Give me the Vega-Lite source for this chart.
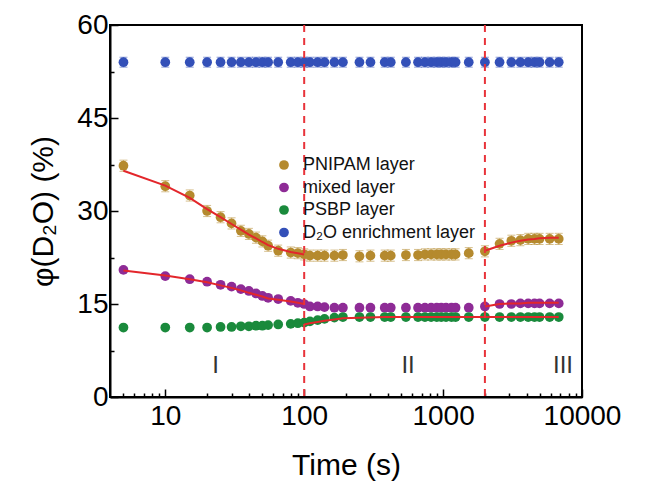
{
  "$schema": "https://vega.github.io/schema/vega-lite/v6.json",
  "width": 472,
  "height": 372,
  "autosize": {"type": "none"},
  "padding": {"left": 110, "top": 25, "right": 74, "bottom": 86},
  "background": "white",
  "config": {
    "view": {"stroke": "black", "strokeWidth": 2},
    "font": "Liberation Sans",
    "axis": {
      "grid": false,
      "domainColor": "black",
      "domainWidth": 2,
      "tickColor": "black",
      "tickWidth": 1.5,
      "labelFont": "Liberation Sans",
      "labelColor": "black",
      "titleFont": "Liberation Sans",
      "titleColor": "black",
      "titleFontWeight": "normal"
    },
    "legend": {
      "title": null, "orient": "none", "legendX": 165, "legendY": 131,
      "symbolType": "circle", "symbolSize": 95, "symbolStrokeWidth": 0, "symbolOpacity": 1,
      "labelFontSize": 18, "labelFont": "Liberation Sans", "labelColor": "#111",
      "labelLimit": 400, "rowPadding": 4.5, "labelOffset": 10
    }
  },
  "datasets": {
    "pts": [
      {"layer": "PNIPAM layer", "t": 5, "phi": 37.3, "err": 0.9},
      {"layer": "PNIPAM layer", "t": 10, "phi": 34.0, "err": 0.9},
      {"layer": "PNIPAM layer", "t": 15, "phi": 32.5, "err": 0.9},
      {"layer": "PNIPAM layer", "t": 20, "phi": 30.0, "err": 0.9},
      {"layer": "PNIPAM layer", "t": 25, "phi": 29.0, "err": 0.9},
      {"layer": "PNIPAM layer", "t": 30, "phi": 28.0, "err": 0.9},
      {"layer": "PNIPAM layer", "t": 35, "phi": 26.8, "err": 0.9},
      {"layer": "PNIPAM layer", "t": 40, "phi": 26.3, "err": 0.9},
      {"layer": "PNIPAM layer", "t": 45, "phi": 25.7, "err": 0.9},
      {"layer": "PNIPAM layer", "t": 50, "phi": 25.1, "err": 0.9},
      {"layer": "PNIPAM layer", "t": 55, "phi": 24.4, "err": 0.9},
      {"layer": "PNIPAM layer", "t": 65, "phi": 23.6, "err": 0.9},
      {"layer": "PNIPAM layer", "t": 80, "phi": 23.3, "err": 0.9},
      {"layer": "PNIPAM layer", "t": 90, "phi": 23.2, "err": 0.9},
      {"layer": "PNIPAM layer", "t": 100, "phi": 23.0, "err": 0.9},
      {"layer": "PNIPAM layer", "t": 110, "phi": 22.8, "err": 0.9},
      {"layer": "PNIPAM layer", "t": 125, "phi": 22.8, "err": 0.9},
      {"layer": "PNIPAM layer", "t": 140, "phi": 22.8, "err": 0.9},
      {"layer": "PNIPAM layer", "t": 165, "phi": 22.8, "err": 0.9},
      {"layer": "PNIPAM layer", "t": 190, "phi": 22.9, "err": 0.9},
      {"layer": "PNIPAM layer", "t": 250, "phi": 22.7, "err": 0.9},
      {"layer": "PNIPAM layer", "t": 300, "phi": 22.8, "err": 0.9},
      {"layer": "PNIPAM layer", "t": 380, "phi": 22.8, "err": 0.9},
      {"layer": "PNIPAM layer", "t": 420, "phi": 22.8, "err": 0.9},
      {"layer": "PNIPAM layer", "t": 540, "phi": 22.9, "err": 0.9},
      {"layer": "PNIPAM layer", "t": 660, "phi": 22.9, "err": 0.9},
      {"layer": "PNIPAM layer", "t": 740, "phi": 23.0, "err": 0.9},
      {"layer": "PNIPAM layer", "t": 820, "phi": 23.0, "err": 0.9},
      {"layer": "PNIPAM layer", "t": 900, "phi": 23.0, "err": 0.9},
      {"layer": "PNIPAM layer", "t": 970, "phi": 23.0, "err": 0.9},
      {"layer": "PNIPAM layer", "t": 1050, "phi": 23.0, "err": 0.9},
      {"layer": "PNIPAM layer", "t": 1150, "phi": 23.0, "err": 0.9},
      {"layer": "PNIPAM layer", "t": 1230, "phi": 23.0, "err": 0.9},
      {"layer": "PNIPAM layer", "t": 1530, "phi": 23.2, "err": 0.9},
      {"layer": "PNIPAM layer", "t": 2000, "phi": 23.5, "err": 0.9},
      {"layer": "PNIPAM layer", "t": 2550, "phi": 24.7, "err": 0.9},
      {"layer": "PNIPAM layer", "t": 3100, "phi": 25.2, "err": 0.9},
      {"layer": "PNIPAM layer", "t": 3600, "phi": 25.3, "err": 0.9},
      {"layer": "PNIPAM layer", "t": 4100, "phi": 25.5, "err": 0.9},
      {"layer": "PNIPAM layer", "t": 4550, "phi": 25.5, "err": 0.9},
      {"layer": "PNIPAM layer", "t": 4950, "phi": 25.5, "err": 0.9},
      {"layer": "PNIPAM layer", "t": 5850, "phi": 25.5, "err": 0.9},
      {"layer": "PNIPAM layer", "t": 6800, "phi": 25.5, "err": 0.9},

      {"layer": "mixed layer", "t": 5, "phi": 20.5, "err": 0.4},
      {"layer": "mixed layer", "t": 10, "phi": 19.5, "err": 0.4},
      {"layer": "mixed layer", "t": 15, "phi": 19.0, "err": 0.4},
      {"layer": "mixed layer", "t": 20, "phi": 18.6, "err": 0.4},
      {"layer": "mixed layer", "t": 25, "phi": 18.1, "err": 0.4},
      {"layer": "mixed layer", "t": 30, "phi": 17.8, "err": 0.4},
      {"layer": "mixed layer", "t": 35, "phi": 17.4, "err": 0.4},
      {"layer": "mixed layer", "t": 40, "phi": 17.1, "err": 0.4},
      {"layer": "mixed layer", "t": 45, "phi": 16.7, "err": 0.4},
      {"layer": "mixed layer", "t": 50, "phi": 16.3, "err": 0.4},
      {"layer": "mixed layer", "t": 55, "phi": 16.0, "err": 0.4},
      {"layer": "mixed layer", "t": 65, "phi": 15.8, "err": 0.4},
      {"layer": "mixed layer", "t": 80, "phi": 15.5, "err": 0.4},
      {"layer": "mixed layer", "t": 90, "phi": 15.2, "err": 0.4},
      {"layer": "mixed layer", "t": 100, "phi": 15.0, "err": 0.4},
      {"layer": "mixed layer", "t": 110, "phi": 14.6, "err": 0.4},
      {"layer": "mixed layer", "t": 125, "phi": 14.6, "err": 0.4},
      {"layer": "mixed layer", "t": 140, "phi": 14.5, "err": 0.4},
      {"layer": "mixed layer", "t": 165, "phi": 14.4, "err": 0.4},
      {"layer": "mixed layer", "t": 190, "phi": 14.4, "err": 0.4},
      {"layer": "mixed layer", "t": 250, "phi": 14.4, "err": 0.4},
      {"layer": "mixed layer", "t": 300, "phi": 14.4, "err": 0.4},
      {"layer": "mixed layer", "t": 380, "phi": 14.4, "err": 0.4},
      {"layer": "mixed layer", "t": 420, "phi": 14.4, "err": 0.4},
      {"layer": "mixed layer", "t": 540, "phi": 14.4, "err": 0.4},
      {"layer": "mixed layer", "t": 660, "phi": 14.4, "err": 0.4},
      {"layer": "mixed layer", "t": 740, "phi": 14.4, "err": 0.4},
      {"layer": "mixed layer", "t": 820, "phi": 14.4, "err": 0.4},
      {"layer": "mixed layer", "t": 900, "phi": 14.4, "err": 0.4},
      {"layer": "mixed layer", "t": 970, "phi": 14.4, "err": 0.4},
      {"layer": "mixed layer", "t": 1050, "phi": 14.4, "err": 0.4},
      {"layer": "mixed layer", "t": 1150, "phi": 14.4, "err": 0.4},
      {"layer": "mixed layer", "t": 1230, "phi": 14.4, "err": 0.4},
      {"layer": "mixed layer", "t": 1530, "phi": 14.4, "err": 0.4},
      {"layer": "mixed layer", "t": 2000, "phi": 14.6, "err": 0.4},
      {"layer": "mixed layer", "t": 2550, "phi": 15.0, "err": 0.4},
      {"layer": "mixed layer", "t": 3100, "phi": 15.0, "err": 0.4},
      {"layer": "mixed layer", "t": 3600, "phi": 15.1, "err": 0.4},
      {"layer": "mixed layer", "t": 4100, "phi": 15.1, "err": 0.4},
      {"layer": "mixed layer", "t": 4550, "phi": 15.1, "err": 0.4},
      {"layer": "mixed layer", "t": 4950, "phi": 15.1, "err": 0.4},
      {"layer": "mixed layer", "t": 5850, "phi": 15.1, "err": 0.4},
      {"layer": "mixed layer", "t": 6800, "phi": 15.1, "err": 0.4},

      {"layer": "PSBP layer", "t": 5, "phi": 11.2, "err": 0.3},
      {"layer": "PSBP layer", "t": 10, "phi": 11.2, "err": 0.3},
      {"layer": "PSBP layer", "t": 15, "phi": 11.2, "err": 0.3},
      {"layer": "PSBP layer", "t": 20, "phi": 11.2, "err": 0.3},
      {"layer": "PSBP layer", "t": 25, "phi": 11.3, "err": 0.3},
      {"layer": "PSBP layer", "t": 30, "phi": 11.3, "err": 0.3},
      {"layer": "PSBP layer", "t": 35, "phi": 11.4, "err": 0.3},
      {"layer": "PSBP layer", "t": 40, "phi": 11.4, "err": 0.3},
      {"layer": "PSBP layer", "t": 45, "phi": 11.5, "err": 0.3},
      {"layer": "PSBP layer", "t": 50, "phi": 11.5, "err": 0.3},
      {"layer": "PSBP layer", "t": 55, "phi": 11.6, "err": 0.3},
      {"layer": "PSBP layer", "t": 65, "phi": 11.7, "err": 0.3},
      {"layer": "PSBP layer", "t": 80, "phi": 11.8, "err": 0.3},
      {"layer": "PSBP layer", "t": 90, "phi": 11.9, "err": 0.3},
      {"layer": "PSBP layer", "t": 100, "phi": 12.0, "err": 0.3},
      {"layer": "PSBP layer", "t": 110, "phi": 12.2, "err": 0.3},
      {"layer": "PSBP layer", "t": 125, "phi": 12.4, "err": 0.3},
      {"layer": "PSBP layer", "t": 140, "phi": 12.6, "err": 0.3},
      {"layer": "PSBP layer", "t": 165, "phi": 12.8, "err": 0.3},
      {"layer": "PSBP layer", "t": 190, "phi": 12.9, "err": 0.3},
      {"layer": "PSBP layer", "t": 250, "phi": 12.9, "err": 0.3},
      {"layer": "PSBP layer", "t": 300, "phi": 12.9, "err": 0.3},
      {"layer": "PSBP layer", "t": 380, "phi": 12.9, "err": 0.3},
      {"layer": "PSBP layer", "t": 420, "phi": 12.9, "err": 0.3},
      {"layer": "PSBP layer", "t": 540, "phi": 12.9, "err": 0.3},
      {"layer": "PSBP layer", "t": 660, "phi": 12.9, "err": 0.3},
      {"layer": "PSBP layer", "t": 740, "phi": 12.9, "err": 0.3},
      {"layer": "PSBP layer", "t": 820, "phi": 12.9, "err": 0.3},
      {"layer": "PSBP layer", "t": 900, "phi": 12.9, "err": 0.3},
      {"layer": "PSBP layer", "t": 970, "phi": 12.9, "err": 0.3},
      {"layer": "PSBP layer", "t": 1050, "phi": 12.9, "err": 0.3},
      {"layer": "PSBP layer", "t": 1150, "phi": 12.9, "err": 0.3},
      {"layer": "PSBP layer", "t": 1230, "phi": 12.9, "err": 0.3},
      {"layer": "PSBP layer", "t": 1530, "phi": 12.9, "err": 0.3},
      {"layer": "PSBP layer", "t": 2000, "phi": 12.9, "err": 0.3},
      {"layer": "PSBP layer", "t": 2550, "phi": 12.9, "err": 0.3},
      {"layer": "PSBP layer", "t": 3100, "phi": 12.9, "err": 0.3},
      {"layer": "PSBP layer", "t": 3600, "phi": 12.9, "err": 0.3},
      {"layer": "PSBP layer", "t": 4100, "phi": 12.9, "err": 0.3},
      {"layer": "PSBP layer", "t": 4550, "phi": 12.9, "err": 0.3},
      {"layer": "PSBP layer", "t": 4950, "phi": 12.9, "err": 0.3},
      {"layer": "PSBP layer", "t": 5850, "phi": 12.9, "err": 0.3},
      {"layer": "PSBP layer", "t": 6800, "phi": 12.9, "err": 0.3},

      {"layer": "D₂O enrichment layer", "t": 5, "phi": 54.0, "err": 0.8},
      {"layer": "D₂O enrichment layer", "t": 10, "phi": 54.0, "err": 0.8},
      {"layer": "D₂O enrichment layer", "t": 15, "phi": 54.0, "err": 0.8},
      {"layer": "D₂O enrichment layer", "t": 20, "phi": 54.0, "err": 0.8},
      {"layer": "D₂O enrichment layer", "t": 25, "phi": 54.0, "err": 0.8},
      {"layer": "D₂O enrichment layer", "t": 30, "phi": 54.0, "err": 0.8},
      {"layer": "D₂O enrichment layer", "t": 35, "phi": 54.0, "err": 0.8},
      {"layer": "D₂O enrichment layer", "t": 40, "phi": 54.0, "err": 0.8},
      {"layer": "D₂O enrichment layer", "t": 45, "phi": 54.0, "err": 0.8},
      {"layer": "D₂O enrichment layer", "t": 50, "phi": 54.0, "err": 0.8},
      {"layer": "D₂O enrichment layer", "t": 55, "phi": 54.0, "err": 0.8},
      {"layer": "D₂O enrichment layer", "t": 65, "phi": 54.0, "err": 0.8},
      {"layer": "D₂O enrichment layer", "t": 80, "phi": 54.0, "err": 0.8},
      {"layer": "D₂O enrichment layer", "t": 90, "phi": 54.0, "err": 0.8},
      {"layer": "D₂O enrichment layer", "t": 100, "phi": 54.0, "err": 0.8},
      {"layer": "D₂O enrichment layer", "t": 110, "phi": 54.0, "err": 0.8},
      {"layer": "D₂O enrichment layer", "t": 125, "phi": 54.0, "err": 0.8},
      {"layer": "D₂O enrichment layer", "t": 140, "phi": 54.0, "err": 0.8},
      {"layer": "D₂O enrichment layer", "t": 165, "phi": 54.0, "err": 0.8},
      {"layer": "D₂O enrichment layer", "t": 190, "phi": 54.0, "err": 0.8},
      {"layer": "D₂O enrichment layer", "t": 250, "phi": 54.0, "err": 0.8},
      {"layer": "D₂O enrichment layer", "t": 300, "phi": 54.0, "err": 0.8},
      {"layer": "D₂O enrichment layer", "t": 380, "phi": 54.0, "err": 0.8},
      {"layer": "D₂O enrichment layer", "t": 420, "phi": 54.0, "err": 0.8},
      {"layer": "D₂O enrichment layer", "t": 540, "phi": 54.0, "err": 0.8},
      {"layer": "D₂O enrichment layer", "t": 660, "phi": 54.0, "err": 0.8},
      {"layer": "D₂O enrichment layer", "t": 740, "phi": 54.0, "err": 0.8},
      {"layer": "D₂O enrichment layer", "t": 820, "phi": 54.0, "err": 0.8},
      {"layer": "D₂O enrichment layer", "t": 900, "phi": 54.0, "err": 0.8},
      {"layer": "D₂O enrichment layer", "t": 970, "phi": 54.0, "err": 0.8},
      {"layer": "D₂O enrichment layer", "t": 1050, "phi": 54.0, "err": 0.8},
      {"layer": "D₂O enrichment layer", "t": 1150, "phi": 54.0, "err": 0.8},
      {"layer": "D₂O enrichment layer", "t": 1230, "phi": 54.0, "err": 0.8},
      {"layer": "D₂O enrichment layer", "t": 1530, "phi": 54.0, "err": 0.8},
      {"layer": "D₂O enrichment layer", "t": 2000, "phi": 54.0, "err": 0.8},
      {"layer": "D₂O enrichment layer", "t": 2550, "phi": 54.0, "err": 0.8},
      {"layer": "D₂O enrichment layer", "t": 3100, "phi": 54.0, "err": 0.8},
      {"layer": "D₂O enrichment layer", "t": 3600, "phi": 54.0, "err": 0.8},
      {"layer": "D₂O enrichment layer", "t": 4100, "phi": 54.0, "err": 0.8},
      {"layer": "D₂O enrichment layer", "t": 4550, "phi": 54.0, "err": 0.8},
      {"layer": "D₂O enrichment layer", "t": 4950, "phi": 54.0, "err": 0.8},
      {"layer": "D₂O enrichment layer", "t": 5850, "phi": 54.0, "err": 0.8},
      {"layer": "D₂O enrichment layer", "t": 6800, "phi": 54.0, "err": 0.8}
    ],
    "fits": [
      {"curve": "pnipam-1", "t": 5, "phi": 36.5},
      {"curve": "pnipam-1", "t": 10, "phi": 34.1},
      {"curve": "pnipam-1", "t": 15, "phi": 32.1},
      {"curve": "pnipam-1", "t": 20, "phi": 30.3},
      {"curve": "pnipam-1", "t": 25, "phi": 29.0},
      {"curve": "pnipam-1", "t": 30, "phi": 27.9},
      {"curve": "pnipam-1", "t": 35, "phi": 27.0},
      {"curve": "pnipam-1", "t": 40, "phi": 26.2},
      {"curve": "pnipam-1", "t": 45, "phi": 25.6},
      {"curve": "pnipam-1", "t": 50, "phi": 25.0},
      {"curve": "pnipam-1", "t": 55, "phi": 24.5},
      {"curve": "pnipam-1", "t": 65, "phi": 23.9},
      {"curve": "pnipam-1", "t": 80, "phi": 23.4},
      {"curve": "pnipam-1", "t": 90, "phi": 23.2},
      {"curve": "pnipam-1", "t": 100, "phi": 23.0},
      {"curve": "pnipam-3", "t": 2000, "phi": 23.6},
      {"curve": "pnipam-3", "t": 2550, "phi": 24.4},
      {"curve": "pnipam-3", "t": 3100, "phi": 24.9},
      {"curve": "pnipam-3", "t": 3600, "phi": 25.2},
      {"curve": "pnipam-3", "t": 4100, "phi": 25.4},
      {"curve": "pnipam-3", "t": 4550, "phi": 25.5},
      {"curve": "pnipam-3", "t": 4950, "phi": 25.6},
      {"curve": "pnipam-3", "t": 5850, "phi": 25.7},
      {"curve": "pnipam-3", "t": 6800, "phi": 25.7},
      {"curve": "mixed-1", "t": 5, "phi": 20.4},
      {"curve": "mixed-1", "t": 10, "phi": 19.6},
      {"curve": "mixed-1", "t": 15, "phi": 19.0},
      {"curve": "mixed-1", "t": 20, "phi": 18.5},
      {"curve": "mixed-1", "t": 25, "phi": 18.0},
      {"curve": "mixed-1", "t": 30, "phi": 17.6},
      {"curve": "mixed-1", "t": 35, "phi": 17.2},
      {"curve": "mixed-1", "t": 40, "phi": 16.8},
      {"curve": "mixed-1", "t": 45, "phi": 16.5},
      {"curve": "mixed-1", "t": 50, "phi": 16.2},
      {"curve": "mixed-1", "t": 55, "phi": 15.9},
      {"curve": "mixed-1", "t": 65, "phi": 15.7},
      {"curve": "mixed-1", "t": 80, "phi": 15.4},
      {"curve": "mixed-1", "t": 90, "phi": 15.2},
      {"curve": "mixed-1", "t": 100, "phi": 15.0},
      {"curve": "mixed-3", "t": 2000, "phi": 14.6},
      {"curve": "mixed-3", "t": 2550, "phi": 15.0},
      {"curve": "mixed-3", "t": 3100, "phi": 15.1},
      {"curve": "mixed-3", "t": 3600, "phi": 15.1},
      {"curve": "mixed-3", "t": 4100, "phi": 15.2},
      {"curve": "mixed-3", "t": 4550, "phi": 15.2},
      {"curve": "mixed-3", "t": 4950, "phi": 15.2},
      {"curve": "mixed-3", "t": 5850, "phi": 15.2},
      {"curve": "mixed-3", "t": 6800, "phi": 15.2},
      {"curve": "psbp-2", "t": 100, "phi": 11.7},
      {"curve": "psbp-2", "t": 110, "phi": 11.9},
      {"curve": "psbp-2", "t": 125, "phi": 12.1},
      {"curve": "psbp-2", "t": 140, "phi": 12.3},
      {"curve": "psbp-2", "t": 165, "phi": 12.5},
      {"curve": "psbp-2", "t": 190, "phi": 12.7},
      {"curve": "psbp-2", "t": 250, "phi": 12.8},
      {"curve": "psbp-2", "t": 380, "phi": 12.9},
      {"curve": "psbp-2", "t": 1000, "phi": 12.9},
      {"curve": "psbp-2", "t": 6800, "phi": 12.9}
    ],
    "bounds": [{"t": 100}, {"t": 2000}],
    "regions": [
      {"t": 23, "phi": 5, "label": "I"},
      {"t": 560, "phi": 5, "label": "II"},
      {"t": 7300, "phi": 5, "label": "III"}
    ]
  },
  "layer": [
    {
      "data": {"name": "pts"},
      "mark": {"type": "errorbar", "ticks": {"size": 8, "thickness": 1}, "thickness": 1},
      "encoding": {
        "x": {
          "field": "t", "type": "quantitative",
          "scale": {"type": "log", "domain": [4, 10000], "nice": false},
          "axis": {
            "title": "Time (s)",
            "titleFontSize": 30,
            "titlePadding": 16,
            "labelFontSize": 28,
            "labelPadding": 13,
            "labelFlush": false,
            "labelOverlap": false,
            "labelBound": false,
            "values": [5, 6, 7, 8, 9, 10, 20, 30, 40, 50, 60, 70, 80, 90, 100, 200, 300, 400, 500, 600, 700, 800, 900, 1000, 2000, 3000, 4000, 5000, 6000, 7000, 8000, 9000, 10000],
            "labelExpr": "indexof([10, 100, 1000, 10000], datum.value) >= 0 ? format(datum.value, 'd') : ''",
            "tickSize": {"condition": {"test": "indexof([10, 100, 1000, 10000], datum.value) >= 0", "value": -8}, "value": -4}
          }
        },
        "y": {
          "field": "phi", "type": "quantitative",
          "scale": {"domain": [0, 60], "nice": false},
          "axis": {
            "title": "φ(D₂O) (%)",
            "titleFontSize": 30,
            "titlePadding": 18,
            "labelFontSize": 28,
            "labelPadding": 10,
            "labelFlush": false,
            "labelOverlap": false,
            "values": [0, 7.5, 15, 22.5, 30, 37.5, 45, 52.5, 60],
            "labelExpr": "datum.value % 15 === 0 ? format(datum.value, 'd') : ''",
            "tickSize": {"condition": {"test": "datum.value % 15 === 0", "value": -8}, "value": -4}
          }
        },
        "yError": {"field": "err"},
        "color": {"field": "layer", "type": "nominal",
          "scale": {"domain": ["PNIPAM layer", "mixed layer", "PSBP layer", "D₂O enrichment layer"],
                    "range": ["#b58a2e", "#8e2b96", "#1a8a3c", "#3350b8"]}},
        "opacity": {"value": 0.55}
      }
    },
    {
      "data": {"name": "pts"},
      "mark": {"type": "circle", "size": 95, "opacity": 1},
      "encoding": {
        "x": {"field": "t", "type": "quantitative"},
        "y": {"field": "phi", "type": "quantitative"},
        "color": {"field": "layer", "type": "nominal"}
      }
    },
    {
      "data": {"name": "fits"},
      "mark": {"type": "line", "color": "#e3262b", "strokeWidth": 2},
      "encoding": {
        "x": {"field": "t", "type": "quantitative"},
        "y": {"field": "phi", "type": "quantitative"},
        "detail": {"field": "curve"}
      }
    },
    {
      "data": {"name": "bounds"},
      "mark": {"type": "rule", "color": "#e8333a", "strokeWidth": 2, "strokeDash": [7, 6]},
      "encoding": {"x": {"field": "t", "type": "quantitative"}}
    },
    {
      "data": {"name": "regions"},
      "mark": {"type": "text", "fontSize": 24, "font": "Liberation Sans", "color": "#333", "baseline": "middle", "align": "center"},
      "encoding": {
        "x": {"field": "t", "type": "quantitative"},
        "y": {"field": "phi", "type": "quantitative"},
        "text": {"field": "label"}
      }
    }
  ]
}
